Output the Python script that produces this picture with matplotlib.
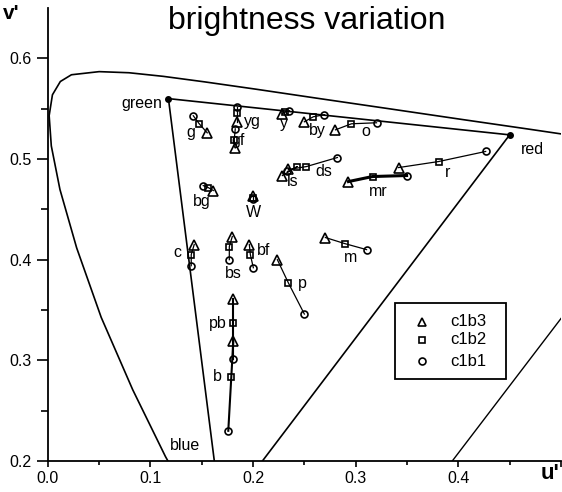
import matplotlib.pyplot as plt
from matplotlib.patches import Rectangle

plt.rcParams['font.family'] = ['Liberation Sans', 'DejaVu Sans']

# spectral locus (u', v')
locus_u = [0.1441, 0.1147, 0.0828, 0.0521, 0.0282, 0.0119, 0.0035, 0.0014, 0.0046, 0.0123,
           0.0231, 0.0501, 0.0792, 0.1127, 0.1531, 0.2026, 0.2623, 0.3315, 0.4035, 0.4692,
           0.5203, 0.5830]
locus_v = [0.151, 0.2044, 0.2708, 0.3427, 0.4117, 0.4698, 0.513, 0.5431, 0.5638, 0.577,
           0.5837, 0.5868, 0.5857, 0.5821, 0.5766, 0.5694, 0.5604, 0.5501, 0.5393, 0.5296,
           0.5219, 0.5125]

# purple line
line_u = [0.2568, 0.6234]
line_v = [0.0165, 0.5065]

# display primaries
prim_u = [0.1176, 0.450, 0.169]
prim_v = [0.560, 0.524, 0.146]

# colour samples: each has (c1b3, c1b2, c1b1) points
names = ['g', 'yg', 'gf', 'y', 'by', 'o', 'ls', 'ds', 'r', 'mr', 'bg', 'W',
         'c', 'bs', 'bf', 'p', 'm', 'pb', 'b']
b3_u = [0.1554, 0.1847, 0.1827, 0.2286, 0.2500, 0.2803, 0.2286, 0.2344, 0.3418, 0.2930, 0.1613, 0.2003,
        0.1427, 0.1798, 0.1964, 0.2237, 0.2705, 0.1808, 0.1808]
b3_v = [0.526, 0.537, 0.511, 0.545, 0.537, 0.529, 0.4836, 0.4896, 0.4915, 0.4776, 0.4687, 0.463,
        0.415, 0.423, 0.415, 0.400, 0.422, 0.361, 0.319]
b2_u = [0.1476, 0.1847, 0.1817, 0.2315, 0.2588, 0.2959, 0.2432, 0.2520, 0.3808, 0.3164, 0.1564, 0.2003,
        0.1398, 0.1769, 0.1974, 0.2344, 0.2893, 0.1808, 0.1788]
b2_v = [0.535, 0.546, 0.519, 0.547, 0.542, 0.535, 0.4925, 0.4925, 0.4975, 0.4826, 0.4716, 0.461,
        0.405, 0.413, 0.405, 0.377, 0.416, 0.337, 0.283]
b1_u = [0.1418, 0.1847, 0.1827, 0.2354, 0.2696, 0.3203, 0.2335, 0.2822, 0.4266, 0.3496, 0.1515, 0.2003,
        0.1398, 0.1769, 0.2003, 0.2500, 0.3106, 0.1808, 0.1759]
b1_v = [0.543, 0.552, 0.530, 0.548, 0.544, 0.536, 0.4876, 0.5015, 0.5075, 0.4836, 0.4736, 0.460,
        0.394, 0.400, 0.392, 0.346, 0.410, 0.301, 0.230]

# label positions
lab_u = [0.139, 0.1915, 0.179, 0.2305, 0.2627, 0.3095, 0.2384, 0.2686, 0.3895, 0.3222, 0.1505, 0.2003,
         0.1262, 0.1808, 0.210, 0.2481, 0.295, 0.1652, 0.1652]
lab_v = [0.526, 0.537, 0.518, 0.535, 0.528, 0.527, 0.4776, 0.4875, 0.4866, 0.4677, 0.4577, 0.4468,
         0.407, 0.386, 0.409, 0.376, 0.402, 0.337, 0.284]
lab_ha = ['center', 'left', 'left', 'center', 'center', 'center', 'center', 'center', 'center',
          'center', 'center', 'center', 'center', 'center', 'center', 'center', 'center',
          'center', 'center']

fig = plt.figure(figsize=(5.62, 4.92), dpi=100)
ax = fig.add_axes([0.0849, 0.063, 0.9133, 0.9207])

ax.plot(locus_u, locus_v, color='k', lw=1.2)
ax.plot(line_u, line_v, color='k', lw=1)

# triangle of primaries
ax.plot(prim_u + [prim_u[0]], prim_v + [prim_v[0]], color='k', lw=1.2)
ax.plot(prim_u[:2], prim_v[:2], 'o', color='k', ms=4)
ax.text(0.1116, 0.555, 'green', fontsize=11.5, ha='right', va='center')
ax.text(0.4608, 0.509, 'red', fontsize=11.5, ha='left', va='center')
ax.text(0.1195, 0.215, 'blue', fontsize=11.5, ha='left', va='center')

for i in range(len(names)):
    lw = 2.2 if names[i] == 'mr' else (1.5 if names[i] in ['pb', 'b'] else 0.9)
    ax.plot([b3_u[i], b2_u[i], b1_u[i]], [b3_v[i], b2_v[i], b1_v[i]], color='k', lw=lw)
    ax.plot(b3_u[i], b3_v[i], '^', mfc='none', mec='k', ms=6.5, mew=1.2)
    ax.plot(b2_u[i], b2_v[i], 's', mfc='none', mec='k', ms=5, mew=1.2)
    ax.plot(b1_u[i], b1_v[i], 'o', mfc='none', mec='k', ms=5, mew=1.2)
    ax.text(lab_u[i], lab_v[i], names[i], fontsize=11.5, ha=lab_ha[i], va='center')

# legend box drawn by hand
ax.add_patch(Rectangle((0.6766, 0.1812), 0.2163, 0.168, transform=ax.transAxes,
                       fill=False, edgecolor='k', lw=1.3, clip_on=False))
leg_marks = ['^', 's', 'o']
leg_sizes = [6, 5, 5]
leg_labels = ['c1b3', 'c1b2', 'c1b1']
leg_y = [0.3072, 0.2674, 0.2199]
for mk, sz, lab, yy in zip(leg_marks, leg_sizes, leg_labels, leg_y):
    ax.plot(0.7292, yy, mk, mfc='none', mec='k', ms=sz, mew=1.2, transform=ax.transAxes)
    ax.text(0.7838, yy, lab, fontsize=12, ha='left', va='center', transform=ax.transAxes)

ax.set_xlim(0, 0.5)
ax.set_ylim(0.2, 0.65)
ax.set_xticks([0.0, 0.1, 0.2, 0.3, 0.4, 0.5])
ax.set_xticks([0.05, 0.15, 0.25, 0.35, 0.45], minor=True)
ax.set_yticks([0.2, 0.3, 0.4, 0.5, 0.6])
ax.set_yticks([0.25, 0.35, 0.45, 0.55], minor=True)
ax.set_xticklabels(['0.0', '0.1', '0.2', '0.3', '0.4', ''])
ax.set_yticklabels(['0.2', '0.3', '0.4', '0.5', '0.6'])
ax.tick_params(axis='both', which='major', direction='out', labelsize=11.5, width=1.2)
ax.tick_params(axis='x', which='major', length=4)
ax.tick_params(axis='y', which='major', length=8)
ax.tick_params(axis='x', which='minor', direction='out', length=3, width=1.2)
ax.tick_params(axis='y', which='minor', direction='out', length=5, width=1.2)
ax.spines['top'].set_visible(False)
ax.spines['right'].set_visible(False)
ax.spines['left'].set_linewidth(1.3)
ax.spines['bottom'].set_linewidth(1.3)

fig.text(0.545, 0.957, 'brightness variation', fontsize=23, ha='center', va='center')
fig.text(0.0196, 0.972, "v'", fontsize=15, fontweight='bold', ha='center', va='center')
fig.text(0.978, 0.037, "u'", fontsize=16, fontweight='bold', ha='center', va='center')

plt.savefig('out.png', dpi=100)
